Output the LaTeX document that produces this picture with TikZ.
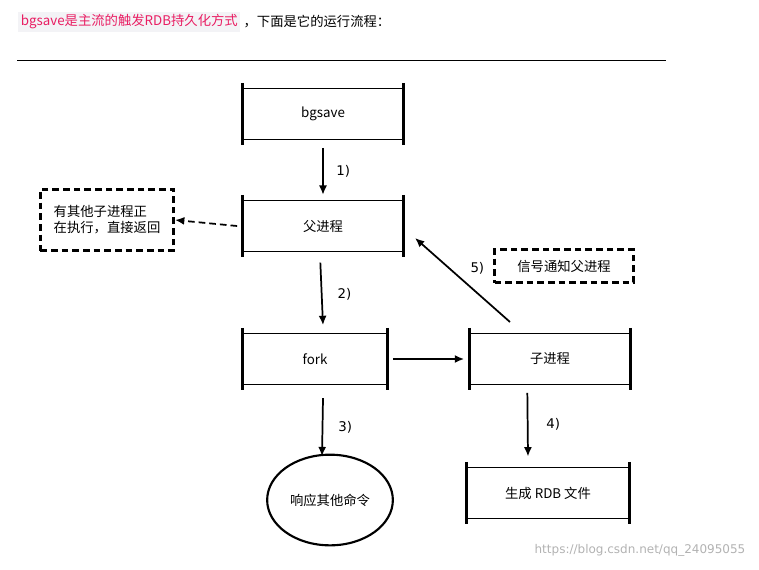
\documentclass[tikz,border=0pt]{standalone}
\usepackage{fontspec}
\setmainfont{DejaVu Sans}
\newfontfamily\cjk{Noto Sans CJK SC}
\usetikzlibrary{positioning}
\usetikzlibrary{shapes.geometric}
\usetikzlibrary{arrows.meta}
\definecolor{csdnpink}{RGB}{233,30,99}
\definecolor{codebg}{RGB}{243,243,246}
\tikzset{box/.style={draw=black,thick,minimum width=#1,minimum height=38pt,font=\cjk},
  dbox/.style={draw=black,line width=2pt,dash pattern=on 5pt off 3pt,font=\cjk,align=left,inner sep=3pt},
  arr/.style={-{Latex[length=7pt,width=6pt]},line width=1.3pt},
  lbl/.style={font=\normalsize}
}
\begin{document}
\begin{tikzpicture}[x=0.75pt,y=-0.75pt]
      \useasboundingbox (0,0) rectangle (759,569);
      \node[fill=codebg,text=csdnpink,anchor=west,inner sep=2pt,font=\cjk] (title) at (18,22) {bgsave是主流的触发RDB持久化方式};
      \node[anchor=west,inner sep=2pt,font=\cjk] (title2) at (title.east) {，下面是它的运行流程：};
      \draw (17,60) -- (666,60);
      \node[box=120pt] (bg) at (323,114) {bgsave};
      \node[box=120pt] (fa) at (323,226) {父进程};
      \node[box=108pt] (fk) at (315,359) {fork};
      \node[box=120pt] (ch) at (550,359) {子进程};
      \node[box=122pt] (rdb) at (548,493) {生成 RDB 文件};
      \node[dbox,minimum width=100pt,minimum height=46pt] (busy) at (107,220) {有其他子进程正\\在执行，直接返回};
      \node[dbox,minimum width=104pt,minimum height=25pt] (sig) at (564,266) {信号通知父进程};
      \node[draw,line width=1.6pt,ellipse,minimum width=88pt,minimum height=68pt,font=\cjk] (resp) at (330,500) {响应其他命令};
      % thick side strokes of the boxes
      \foreach \n in {bg,fa,fk,ch,rdb}{
        \draw[line width=2.2pt] ([yshift=4pt]\n.north west) -- ([yshift=-4pt]\n.south west);
        \draw[line width=2.2pt] ([yshift=4pt]\n.north east) -- ([yshift=-4pt]\n.south east);
      }
      \coordinate (f5) at (510,322);
      \coordinate (t5) at (415,238);
      \draw[arr] ([yshift=-6pt]bg.south) -- node[lbl,right=6pt]{1)} ([yshift=4pt]fa.north);
      \draw[arr] ([xshift=-2pt,yshift=-8pt]fa.south) -- node[lbl,right=8pt]{2)} ([xshift=6pt,yshift=6pt]fk.north);
      \draw[arr] ([xshift=4pt]fk.east) -- ([xshift=-4pt]ch.west);
      \draw[arr] ([xshift=6pt,yshift=-10pt]fk.south) -- node[lbl,right=8pt]{3)} ([xshift=-6pt,yshift=-2pt]resp.north);
      \draw[arr] ([xshift=-17pt,yshift=-6pt]ch.south) -- node[lbl,right=10pt]{4)} ([xshift=-15pt,yshift=8pt]rdb.north);
      \draw[arr] (f5) -- node[lbl,pos=0.64,right=12pt]{5)} (t5);
      \draw[arr,dash pattern=on 5pt off 3pt] ([xshift=-4pt]fa.west) -- (busy.east);
      \node[text=gray!60,anchor=east,font=\small] (wm) at (750,550) {https://blog.csdn.net/qq\_24095055};
\end{tikzpicture}
\end{document}
